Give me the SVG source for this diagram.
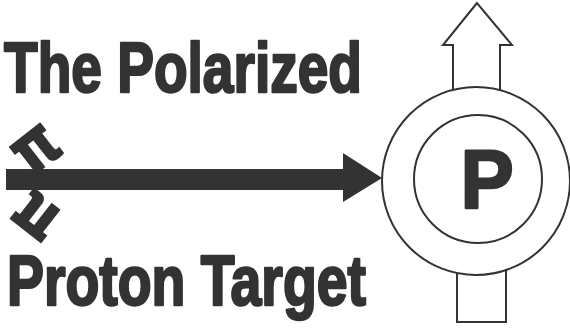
<svg xmlns="http://www.w3.org/2000/svg" width="570" height="329" viewBox="0 0 570 329">
<style>
.title{font-family:"Liberation Sans",Arial,sans-serif;font-weight:bold;fill:#333;stroke:#333;stroke-width:2.5;stroke-linejoin:round;}
.pi{font-family:"DejaVu Sans","Liberation Sans",sans-serif;font-weight:bold;fill:#333;stroke:#333;stroke-width:1.5;}
.ln{fill:#fff;stroke:#333;stroke-width:2;}
</style>
<rect width="570" height="329" fill="#fff"/>
<g id="title-top"><text class="title" x="4" y="92" font-size="71" textLength="358" lengthAdjust="spacingAndGlyphs">The Polarized</text></g>
<g id="title-bottom"><text class="title" x="7" y="305" font-size="71" textLength="359" lengthAdjust="spacingAndGlyphs">Proton Target</text></g>
<g id="pi-in"><text class="pi" x="0" y="0" font-size="56" text-anchor="middle" dominant-baseline="central" transform="translate(34,146) rotate(-38) scale(1,1.2)">π</text></g>
<g id="pi-out"><text class="pi" x="0" y="0" font-size="56" text-anchor="middle" dominant-baseline="central" transform="translate(34,219) rotate(-142) scale(1,1.2)">π</text></g>
<g id="connectors">
<polygon points="6,169 343,169 343,153 382,178 343,202 343,190 6,190" fill="#333"/>
</g>
<g id="target">
<polygon class="ln" points="477,3 443,45 453,45 453,181 500,181 500,45 512,45"/>
<rect class="ln" x="457" y="181" width="49" height="141"/>
<circle class="ln" cx="476" cy="181" r="94"/>
<circle class="ln" cx="478" cy="179" r="64"/>
<text class="title" x="487" y="208" font-size="84" text-anchor="middle" transform="translate(487,0) scale(0.95,1) translate(-487,0)">P</text>
</g>
</svg>
